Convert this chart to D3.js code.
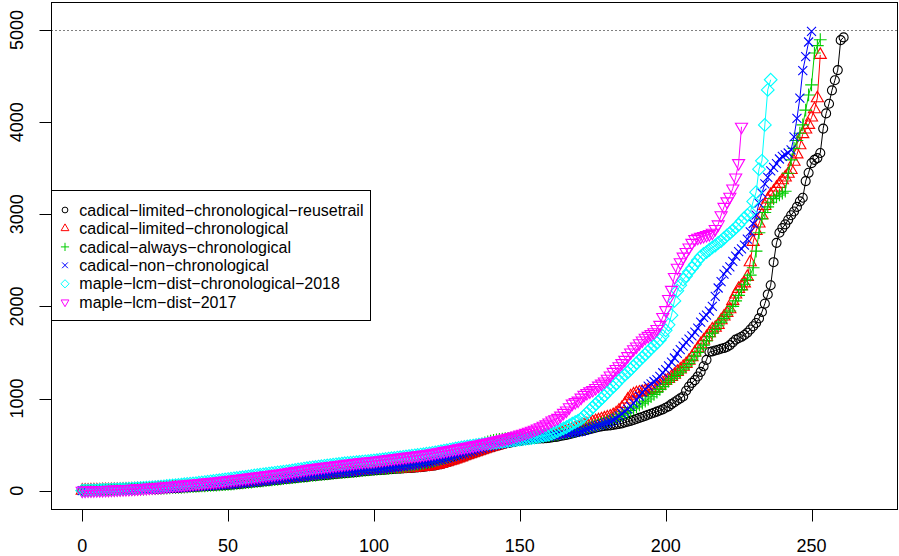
<!DOCTYPE html>
<html><head><meta charset="utf-8">
<script src="https://cdn.jsdelivr.net/npm/d3@7"></script>
<style>body{margin:0;background:#fff}svg{display:block}</style>
</head><body>
<svg id="chart" width="899" height="556"></svg>
<script>
const seriesNames = ["cadical-limited-chronological-reusetrail","cadical-limited-chronological","cadical-always-chronological","cadical-non-chronological","maple-lcm-dist-chronological-2018","maple-lcm-dist-2017"];
const seriesColors = ["#000000","#FF0000","#00CD00","#0000FF","#00FFFF","#FF00FF"];
const seriesSymbols = ["circle","triangleUp","plus","cross","diamond","triangleDown"];

const reusetrailTimes = [0,1,1,2,2,3,3,4,4,5,5,6,7,7,8,9,10,11,12,13,14,15,16,17,18,20,21,22,24,25,27,28,30,31,33,35,36,38,40,42,44,45,47,49,51,53,54,56,58,60,62,65,68,71,74,77,80,83,87,90,93,96,100,103,107,110,113,117,120,124,127,130,134,137,140,144,147,150,154,157,160,163,166,169,172,175,178,181,184,187,190,193,196,199,202,205,208,211,214,217,220,222,224,226,229,231,233,236,238,240,242,244,246,248,250,253,256,259,262,266,270,275,281,288,296,305,315,325,336,347,358,369,380,391,402,413,424,435,446,456,466,476,485,494,502,510,517,524,530,536,541,546,550,554,558,561,564,566,568,570,572,578,582,586,594,600,606,614,621,630,638,645,652,660,668,676,684,692,698,703,706,709,713,718,724,730,740,749,758,767,778,790,800,812,824,835,846,858,870,882,900,915,940,960,982,1002,1022,1085,1130,1170,1200,1240,1290,1350,1420,1505,1512,1522,1530,1540,1548,1560,1580,1610,1640,1655,1670,1690,1715,1750,1785,1820,1870,1940,2030,2130,2230,2480,2690,2800,2850,2890,2940,2990,3030,3080,3140,3180,3360,3450,3555,3590,3610,3665,3930,4095,4200,4345,4455,4565,4890,4920];

const limitedTimes = [1,2,2,3,4,4,5,6,6,7,8,9,9,10,11,12,13,14,15,16,17,18,20,21,22,24,25,27,28,30,31,33,35,36,38,40,42,44,46,48,50,52,54,56,58,60,62,64,66,68,70,73,76,79,82,85,88,91,94,97,100,103,106,110,113,116,120,123,127,130,134,137,141,144,148,151,155,158,162,165,169,172,175,178,182,185,188,191,194,197,200,203,206,209,212,215,218,220,222,224,226,228,230,232,234,236,238,240,241,242,243,244,245,247,249,251,254,257,261,265,270,276,283,291,300,309,319,329,340,351,362,373,384,395,406,417,428,439,450,461,471,481,490,499,507,515,523,530,537,544,550,556,561,566,571,575,579,583,587,592,600,603,610,620,630,640,650,659,668,678,688,698,710,722,734,745,756,765,775,785,795,805,820,840,870,900,940,990,1025,1045,1058,1065,1071,1080,1090,1098,1106,1115,1140,1168,1190,1212,1235,1258,1290,1315,1345,1375,1410,1450,1500,1545,1590,1630,1668,1710,1750,1768,1800,1850,1890,1930,1970,2060,2130,2190,2220,2250,2320,2480,2700,2820,2900,2990,3090,3160,3210,3245,3290,3330,3370,3400,3440,3480,3570,3650,3750,3870,3920,3970,4050,4140,4260,4730];

const alwaysTimes = [0,1,2,3,3,4,5,5,6,7,8,8,9,10,11,12,13,14,15,16,17,18,19,21,22,23,25,26,28,29,31,32,34,36,37,39,41,43,45,47,49,51,53,55,57,59,61,63,65,67,69,72,75,78,81,84,87,90,93,97,100,103,107,110,114,117,121,124,128,131,135,138,142,145,149,152,156,159,163,166,170,173,176,179,182,186,189,192,195,198,201,204,207,210,213,216,219,222,225,228,231,234,237,240,243,246,249,252,255,258,262,266,270,275,280,285,291,297,304,311,318,326,335,344,354,364,375,386,398,410,422,434,446,458,470,482,494,506,518,529,538,545,551,556,560,564,567,570,573,576,577,579,581,583,585,587,589,591,593,595,598,602,607,612,618,624,630,636,643,650,657,665,673,682,691,700,710,720,730,740,752,764,778,792,806,820,836,852,870,890,910,930,950,972,995,1020,1045,1070,1100,1130,1160,1190,1215,1240,1265,1290,1320,1350,1380,1420,1460,1500,1540,1580,1625,1670,1710,1750,1790,1830,1870,1910,1950,2000,2060,2120,2180,2240,2290,2340,2420,2600,2800,2950,3020,3080,3130,3170,3190,3210,3230,3250,3445,3590,3715,3800,3880,3970,4130,4295,4405,4750,4830,4895];

const nonChronoTimes = [0,1,2,2,3,3,4,5,5,6,7,7,8,9,10,11,12,13,14,15,16,17,18,19,21,22,23,25,26,28,29,31,32,34,36,37,39,41,43,45,47,49,51,53,55,57,59,61,63,65,67,70,73,76,79,82,85,88,92,95,98,101,105,108,112,115,119,122,126,129,133,136,140,143,147,150,154,157,161,164,168,171,174,177,181,184,187,190,193,196,199,202,205,208,211,214,217,220,223,226,229,232,235,238,241,245,249,253,257,261,265,269,273,278,283,288,293,299,305,311,317,324,331,338,346,354,362,370,379,388,397,406,415,424,433,442,451,460,469,478,486,494,501,508,515,522,528,534,540,545,550,555,560,564,568,572,576,580,584,588,591,595,600,604,610,615,620,626,630,634,638,645,655,668,680,690,700,710,720,730,740,750,768,785,810,835,860,885,915,950,985,1025,1065,1100,1135,1160,1185,1205,1240,1280,1315,1355,1395,1440,1490,1530,1570,1610,1645,1680,1720,1765,1830,1880,1905,1950,2000,2110,2200,2270,2350,2390,2430,2490,2545,2595,2625,2665,2730,2810,2900,2990,3120,3230,3330,3400,3470,3510,3550,3600,3628,3645,3665,3700,3840,4040,4260,4560,4710,4870,4985];

const maple2018Times = [1,2,3,4,5,6,8,9,10,11,12,14,15,17,18,20,22,23,25,27,29,31,33,35,37,39,42,45,48,51,54,57,60,63,66,70,73,76,79,82,86,90,94,98,102,106,110,114,118,122,126,130,134,138,142,146,150,155,160,165,170,174,178,182,186,190,194,198,202,206,210,215,220,225,230,235,240,245,250,254,258,262,266,270,274,278,282,286,290,294,298,301,304,307,310,313,316,319,322,325,328,332,336,340,344,348,352,356,360,364,368,372,376,380,384,388,392,396,401,406,411,416,422,428,434,440,446,452,458,464,470,475,480,485,490,495,499,503,507,511,515,519,523,527,531,535,539,543,547,551,555,559,563,567,571,576,582,589,596,603,610,620,632,648,662,676,690,708,728,745,760,780,810,843,875,905,940,968,1000,1030,1068,1098,1126,1160,1195,1228,1258,1285,1318,1350,1385,1415,1448,1478,1510,1545,1572,1605,1636,1680,1740,1800,1905,2060,2170,2230,2290,2330,2375,2415,2455,2500,2540,2570,2590,2615,2640,2660,2690,2710,2740,2770,2795,2825,2855,2885,2925,2960,2990,3020,3140,3240,3490,3580,3970,4350,4460];

const maple2017Times = [0,1,2,3,4,5,6,7,8,9,10,12,13,15,16,18,19,21,23,25,27,29,31,33,35,37,39,42,45,48,51,54,57,60,63,66,69,72,75,78,81,84,87,90,93,96,99,102,106,110,114,118,122,126,130,134,138,142,146,150,154,158,162,166,170,174,178,182,187,192,197,202,207,212,217,222,227,232,237,242,247,251,255,259,263,267,271,275,279,283,287,291,295,299,303,307,311,314,317,320,323,327,331,335,339,343,347,351,355,359,363,367,371,375,379,383,387,391,396,401,406,411,417,423,429,435,441,447,453,459,465,471,477,483,489,495,501,508,515,522,529,536,543,550,557,565,573,581,590,599,608,618,628,639,650,662,675,689,704,720,740,762,775,790,815,845,870,905,945,962,978,1010,1040,1060,1078,1093,1115,1140,1162,1185,1215,1250,1290,1320,1350,1385,1420,1460,1500,1535,1565,1600,1630,1660,1680,1700,1720,1755,1800,1885,1960,2080,2180,2320,2420,2480,2540,2590,2640,2690,2730,2745,2755,2765,2775,2785,2800,2840,2890,2990,3080,3140,3190,3280,3400,3555,3950];

const xTicks = [0,50,100,150,200,250];
const yTicks = [0,1000,2000,3000,4000,5000];
const timeLimit = 5000;

const allSeries = [reusetrailTimes, limitedTimes, alwaysTimes, nonChronoTimes, maple2018Times, maple2017Times];

const svg = d3.select("#chart");
const FONT = "'Liberation Sans', Arial, Helvetica, sans-serif";
const box = {left: 51.5, right: 897.5, top: 2.5, bottom: 509.5};

const x = d3.scaleLinear().domain([-10.7, 279.3]).range([51, 897]);
const y = d3.scaleLinear().domain([-202, 5304]).range([509.3, 2]);

function symbolPath(type, s) {
  const p = d3.path();
  if (type === "circle") { p.moveTo(s, 0); p.arc(0, 0, s, 0, 2 * Math.PI); }
  else if (type === "triangleUp") { const r = 1.555 * s, xc = 1.347 * s, yc = 0.778 * s; p.moveTo(0, -r); p.lineTo(xc, yc); p.lineTo(-xc, yc); p.closePath(); }
  else if (type === "triangleDown") { const r = 1.555 * s, xc = 1.347 * s, yc = 0.778 * s; p.moveTo(0, r); p.lineTo(xc, -yc); p.lineTo(-xc, -yc); p.closePath(); }
  else if (type === "plus") { const h = 1.414 * s; p.moveTo(-h, 0); p.lineTo(h, 0); p.moveTo(0, -h); p.lineTo(0, h); }
  else if (type === "cross") { p.moveTo(-s, -s); p.lineTo(s, s); p.moveTo(-s, s); p.lineTo(s, -s); }
  else if (type === "diamond") { const h = 1.414 * s; p.moveTo(0, -h); p.lineTo(h, 0); p.lineTo(0, h); p.lineTo(-h, 0); p.closePath(); }
  return p.toString();
}

// time limit dotted line
const yLim = Math.round(y(timeLimit)) + 0.5;
svg.append("line")
  .attr("x1", box.left).attr("x2", box.right)
  .attr("y1", yLim).attr("y2", yLim)
  .attr("stroke", "#000").attr("stroke-width", 1).attr("stroke-dasharray", "1,3");

// series
const line = d3.line().x((d, i) => x(i)).y(d => y(d));
const plotSize = 4.5;
allSeries.forEach((vals, k) => {
  const g = svg.append("g");
  g.append("path").attr("d", line(vals)).attr("fill", "none")
    .attr("stroke", seriesColors[k]).attr("stroke-width", 1);
  const d = symbolPath(seriesSymbols[k], plotSize);
  g.selectAll("path.pt").data(vals).enter().append("path").attr("class", "pt")
    .attr("d", d)
    .attr("transform", (v, i) => `translate(${x(i)},${y(v)})`)
    .attr("fill", "none").attr("stroke", seriesColors[k]).attr("stroke-width", 1.1);
});

// box
svg.append("rect").attr("x", box.left).attr("y", box.top)
  .attr("width", box.right - box.left).attr("height", box.bottom - box.top)
  .attr("fill", "none").attr("stroke", "#000").attr("stroke-width", 1);

// x axis ticks and labels
xTicks.forEach(t => {
  const xp = Math.round(x(t)) + 0.5;
  svg.append("line").attr("x1", xp).attr("x2", xp).attr("y1", box.bottom).attr("y2", box.bottom + 12)
    .attr("stroke", "#000").attr("stroke-width", 1);
  svg.append("text").attr("x", x(t)).attr("y", 551.5).attr("text-anchor", "middle")
    .attr("font-family", FONT).attr("font-size", 18).attr("fill", "#000").text(t);
});

// y axis ticks and labels
yTicks.forEach(t => {
  const yp = Math.round(y(t)) + 0.5;
  svg.append("line").attr("x1", box.left - 12).attr("x2", box.left).attr("y1", yp).attr("y2", yp)
    .attr("stroke", "#000").attr("stroke-width", 1);
  svg.append("text").attr("transform", `translate(23.2,${y(t)}) rotate(-90)`).attr("text-anchor", "middle")
    .attr("font-family", FONT).attr("font-size", 18).attr("fill", "#000").text(t);
});

// legend
const lg = svg.append("g");
lg.append("rect").attr("x", 51.5).attr("y", 190.5).attr("width", 319).attr("height", 130)
  .attr("fill", "#fff").attr("stroke", "#000").attr("stroke-width", 1);
const rowY = [210, 228.4, 246.9, 265.3, 283.8, 302.2];
seriesNames.forEach((name, k) => {
  lg.append("path").attr("d", symbolPath(seriesSymbols[k], 2.9))
    .attr("transform", `translate(65,${rowY[k]})`)
    .attr("fill", "none").attr("stroke", seriesColors[k]).attr("stroke-width", 1);
  lg.append("text").attr("x", 79.3).attr("y", rowY[k] + 5.6)
    .attr("font-family", FONT).attr("font-size", 16).attr("fill", "#000")
    .text(name.replace(/-/g, "\u2212"));
});
</script>
</body></html>
